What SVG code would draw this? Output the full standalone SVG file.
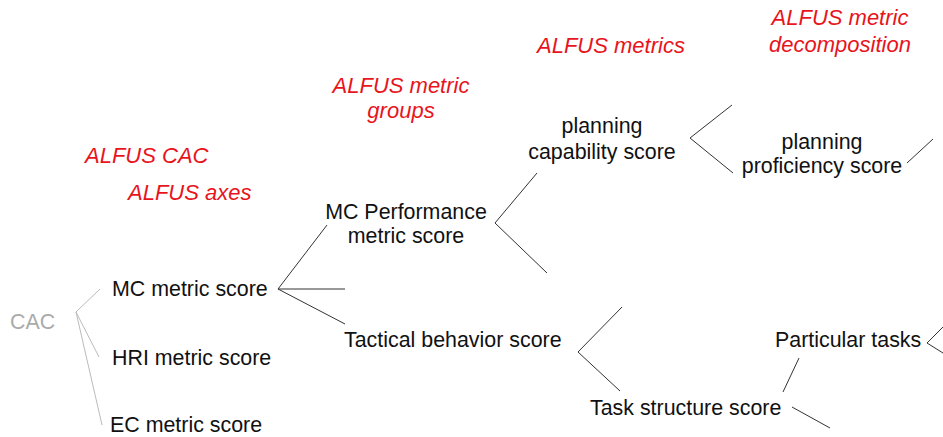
<svg xmlns="http://www.w3.org/2000/svg" width="943" height="437" viewBox="0 0 943 437">
  <style>
    text { font-family: "Liberation Sans", Arial, sans-serif; font-size: 21.4px; }
    .node { fill: #111; }
    .root { fill: #aaa; }
    .label { fill: #e8141c; font-style: italic; font-size: 22px; }
    .mid { text-anchor: middle; }
    .edge { stroke: #333; stroke-width: 1; fill: none; }
    .edge-light { stroke: #bbb; stroke-width: 1; fill: none; }
  </style>
  <rect width="943" height="437" fill="#fff"/>

  <!-- level captions -->
  <g id="captions">
    <text class="label" x="85" y="163">ALFUS CAC</text>
    <text class="label" x="128" y="200">ALFUS axes</text>
    <text class="label mid" x="401" y="93">ALFUS metric</text>
    <text class="label mid" x="401" y="118">groups</text>
    <text class="label" x="537" y="53">ALFUS metrics</text>
    <text class="label mid" x="840" y="25">ALFUS metric</text>
    <text class="label mid" x="840" y="52">decomposition</text>
  </g>

  <!-- connectors -->
  <g id="connectors">
    <path class="edge-light" d="M100,289 L76,312 L99,357 M76,312 L102,425"/>
    <path class="edge" d="M327,225 L278,289 L345,289 M278,289 L345,324"/>
    <path class="edge" d="M537,173 L495,223 L547,273"/>
    <path class="edge" d="M732,105 L690,138 L733,173"/>
    <path class="edge" d="M907,163 L933,139"/>
    <path class="edge" d="M622,307 L578,352 L620,391"/>
    <path class="edge" d="M783,392 L799,358"/>
    <path class="edge" d="M792,407 L830,428"/>
    <path class="edge" d="M943,327 L927,343 L943,353"/>
  </g>

  <!-- nodes -->
  <g id="cac"><text class="root" x="10" y="329">CAC</text></g>
  <g id="mc-metric"><text class="node" x="112" y="296">MC metric score</text></g>
  <g id="hri-metric"><text class="node" x="112" y="365">HRI metric score</text></g>
  <g id="ec-metric"><text class="node" x="110" y="432">EC metric score</text></g>
  <g id="mc-performance">
    <text class="node mid" x="406" y="219">MC Performance</text>
    <text class="node mid" x="406" y="243">metric score</text>
  </g>
  <g id="tactical-behavior"><text class="node" x="344" y="347">Tactical behavior score</text></g>
  <g id="planning-capability">
    <text class="node mid" x="602" y="133">planning</text>
    <text class="node mid" x="602" y="159">capability score</text>
  </g>
  <g id="planning-proficiency">
    <text class="node mid" x="822" y="149">planning</text>
    <text class="node mid" x="822" y="173">proficiency score</text>
  </g>
  <g id="particular-tasks"><text class="node" x="775" y="347">Particular tasks</text></g>
  <g id="task-structure"><text class="node" x="590" y="415">Task structure score</text></g>
</svg>
